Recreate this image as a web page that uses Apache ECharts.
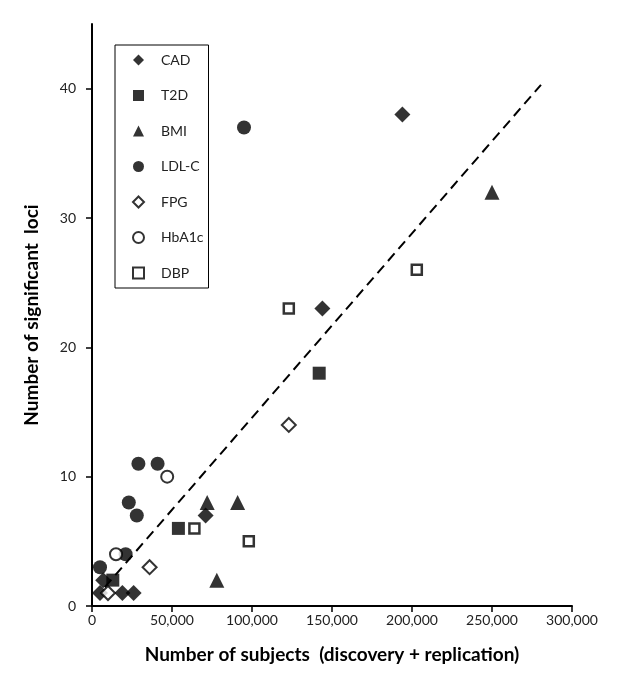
<!DOCTYPE html>
<html>
<head>
<meta charset="utf-8">
<script src="https://cdn.jsdelivr.net/npm/echarts@6/dist/echarts.min.js"></script>
<style>
  html, body { margin: 0; padding: 0; background: #fff; }
  #myChart { width: 620px; height: 692px; }
</style>
</head>
<body>
<div id="myChart"></div>
<script>
  // [subjects, significant loci]
  var cad = [[5000, 1], [7000, 2], [19000, 1], [26000, 1], [71000, 7], [144000, 23], [194000, 38]];
  var t2d = [[13000, 2], [54000, 6], [142000, 18]];
  var bmi = [[72000, 8], [78000, 2], [91000, 8], [250000, 32]];
  var ldl = [[5000, 3], [21000, 4], [23000, 8], [28000, 7], [29000, 11], [41000, 11], [95000, 37]];
  var fpg = [[10000, 1], [36000, 3], [123000, 14]];
  var hba1c = [[15000, 4], [47000, 10]];
  var dbp = [[64000, 6], [98000, 5], [123000, 23], [203000, 26]];

  // dashed trend line
  var trendX = [8000, 280600];
  var trendY = [1.45, 40.3];

  var yTicks = [0, 10, 20, 30, 40];
  var font = 'Lato, "Open Sans", sans-serif';

  var filled = { color: '#000' };
  var hollow = { color: '#fff', borderColor: '#000', borderWidth: 2 };

  var myChart = echarts.init(document.getElementById('myChart'));
  myChart.setOption({
    animation: false,
    textStyle: { fontFamily: font },
    grid: { left: 92, right: 48, top: 24, bottom: 86 },
    legend: {
      orient: 'vertical',
      left: 115,
      top: 45,
      data: ['CAD', 'T2D', 'BMI', 'LDL-C', 'FPG', 'HbA1c', 'DBP'],
      itemWidth: 11,
      itemHeight: 11,
      itemGap: 21.5,
      padding: [8, 5, 8, 17],
      borderColor: '#000',
      borderWidth: 1,
      textStyle: { fontSize: 14, color: '#222', fontFamily: font, padding: [0, 0, 0, 12] }
    },
    xAxis: {
      type: 'value',
      min: 0,
      max: 300000,
      interval: 50000,
      name: 'Number of subjects  (discovery + replication)',
      nameLocation: 'middle',
      nameGap: 39,
      nameTextStyle: { fontSize: 19, fontWeight: 'bold', color: '#000', fontFamily: font },
      axisLine: { lineStyle: { color: '#000', width: 2 } },
      axisTick: { show: true, length: 6, lineStyle: { color: '#000', width: 1.5 } },
      axisLabel: {
        margin: 7,
        fontSize: 14,
        color: '#222',
        formatter: function (v) { return v.toLocaleString('en-US'); }
      },
      splitLine: { show: false }
    },
    yAxis: {
      type: 'value',
      min: 0,
      max: 45,
      interval: 10,
      name: 'Number of significant  loci',
      nameLocation: 'middle',
      nameGap: 51,
      nameTextStyle: { fontSize: 19, fontWeight: 'bold', color: '#000', fontFamily: font },
      axisLine: { show: true, lineStyle: { color: '#000', width: 2 } },
      axisTick: { show: true, length: 6, customValues: yTicks, lineStyle: { color: '#000', width: 1.5 } },
      axisLabel: { margin: 16, fontSize: 14, color: '#222', customValues: yTicks },
      splitLine: { show: false }
    },
    series: [
      {
        name: 'trend',
        type: 'line',
        data: trendX.map(function (x, i) { return [x, trendY[i]]; }),
        symbol: 'none',
        lineStyle: { color: '#000', width: 2, type: [10, 6] },
        z: 1
      },
      { name: 'CAD', type: 'scatter', symbol: 'diamond', symbolSize: 16, itemStyle: filled, data: cad },
      { name: 'T2D', type: 'scatter', symbol: 'rect', symbolSize: 13, itemStyle: filled, data: t2d },
      { name: 'BMI', type: 'scatter', symbol: 'triangle', symbolSize: 15, itemStyle: filled, data: bmi },
      { name: 'LDL-C', type: 'scatter', symbol: 'circle', symbolSize: 14, itemStyle: filled, data: ldl },
      { name: 'FPG', type: 'scatter', symbol: 'diamond', symbolSize: 14, itemStyle: hollow, data: fpg },
      { name: 'HbA1c', type: 'scatter', symbol: 'circle', symbolSize: 12, itemStyle: hollow, data: hba1c },
      { name: 'DBP', type: 'scatter', symbol: 'rect', symbolSize: 10, itemStyle: { color: '#fff', borderColor: '#000', borderWidth: 2.5 }, data: dbp }
    ]
  });
</script>
</body>
</html>
